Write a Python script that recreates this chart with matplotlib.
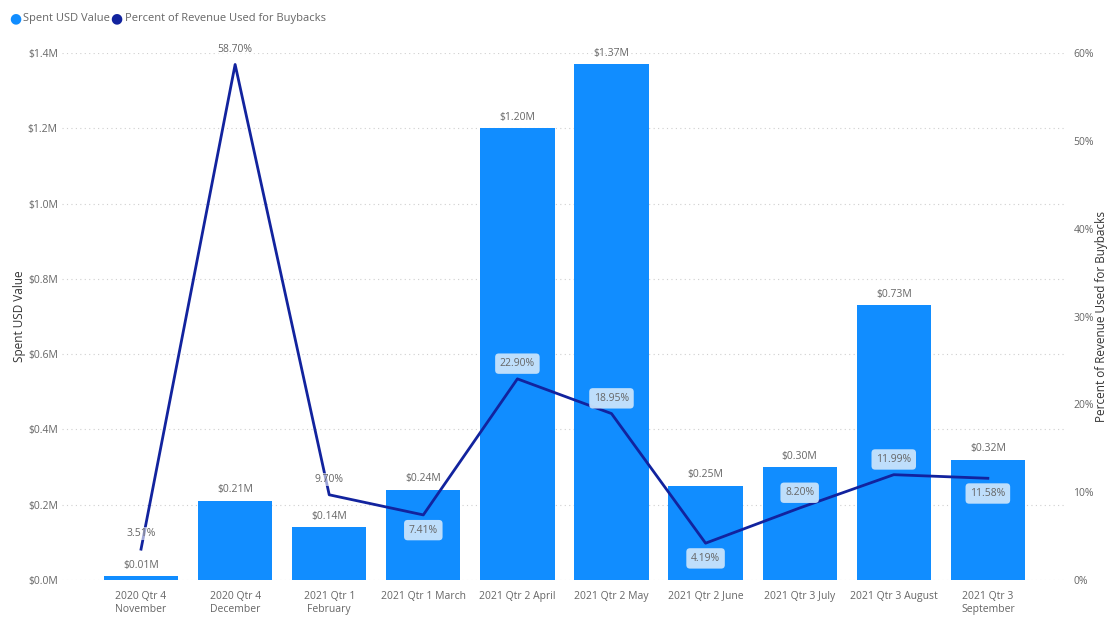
# Description: Spent USD value and percent of revenue used for buybacks, by month.

# Necessary imports
import numpy as np
from matplotlib import pyplot as plt

# Chart data
categories = [
    "2020 Qtr 4\nNovember", "2020 Qtr 4\nDecember", "2021 Qtr 1\nFebruary",
    "2021 Qtr 1 March", "2021 Qtr 2 April", "2021 Qtr 2 May", "2021 Qtr 2 June",
    "2021 Qtr 3 July", "2021 Qtr 3 August", "2021 Qtr 3\nSeptember",
]
spent_usd_m = [0.01, 0.21, 0.14, 0.24, 1.20, 1.37, 0.25, 0.30, 0.73, 0.32]
pct_revenue = [3.51, 58.70, 9.70, 7.41, 22.90, 18.95, 4.19, 8.20, 11.99, 11.58]
# where the percent label sits: above or below the point, with or without a box
pct_label_pos = ["above", "above", "above", "below", "above", "above", "below", "above", "above", "below"]
pct_label_box = [False, False, False, True, True, True, True, True, True, True]

bar_color = "#118DFF"
line_color = "#12239E"
text_gray = "#666666"

plt.rcParams['font.family'] = ['Open Sans', 'DejaVu Sans']

fig = plt.figure(figsize=(11.12, 6.17), dpi=100)
ax = fig.add_axes([62 / 1112, 0.06, (1065 - 62) / 1112, 0.854])
ax2 = ax.twinx()

x = np.arange(len(categories))

# Bars (values in dollars)
spent = np.array(spent_usd_m) * 1e6
ax.bar(x, spent, width=0.79, color=bar_color, zorder=2)
for xi, v in zip(x, spent_usd_m):
    ax.annotate(f"${v:.2f}M", (xi, v * 1e6), xytext=(0, 4), textcoords="offset points",
                ha="center", va="bottom", fontsize=7.5, color=text_gray)

# Line
ax2.plot(x, pct_revenue, color=line_color, linewidth=2, zorder=3)
for xi, v, pos, box in zip(x, pct_revenue, pct_label_pos, pct_label_box):
    dy = 7 if pos == "above" else -7
    va = "bottom" if pos == "above" else "top"
    if box:
        bbox = dict(boxstyle="round,pad=0.45,rounding_size=0.35", fc="#C9E3FB", ec="none", alpha=0.95)
    else:
        bbox = dict(boxstyle="square,pad=0.1", fc="white", ec="none", alpha=0.6)
    ax2.annotate(f"{v:.2f}%", (xi, v), xytext=(0, dy), textcoords="offset points",
                 ha="center", va=va, fontsize=7.5, color=text_gray, bbox=bbox, zorder=4)

# Axes setup
ax.set_xlim(-0.84, len(categories) - 1 + 0.82)
ax.set_ylim(0, 1.4e6)
ax2.set_ylim(0, 60)
ax.set_yticks(np.arange(0, 1.41e6, 0.2e6))
ax.set_yticklabels([f"${t / 1e6:.1f}M" for t in np.arange(0, 1.41e6, 0.2e6)])
ax2.set_yticks(np.arange(0, 61, 10))
ax2.set_yticklabels([f"{t}%" for t in range(0, 61, 10)])
ax.set_xticks(x)
ax.set_xticklabels(categories)

for a in (ax, ax2):
    for s in a.spines.values():
        s.set_visible(False)
    a.tick_params(length=0, colors=text_gray, labelsize=7.5)
ax.tick_params(axis="y", pad=3)
ax2.tick_params(axis="y", pad=6)
ax.tick_params(axis="x", pad=8)

ax.grid(axis="y", linestyle=(0, (1, 3)), color="#CFCFCF", linewidth=0.8, zorder=0)
ax.set_axisbelow(True)

ax.set_ylabel("Spent USD Value", fontsize=8.5, color="#333333", labelpad=1)
ax2.set_ylabel("Percent of Revenue Used for Buybacks", fontsize=8.5, color="#333333", labelpad=1)

# Legend at top left
fig.text(0.008, 0.97, "●", color=bar_color, fontsize=10, va="center")
fig.text(0.021, 0.97, "Spent USD Value", color=text_gray, fontsize=8, va="center")
fig.text(0.099, 0.97, "●", color=line_color, fontsize=10, va="center")
fig.text(0.112, 0.97, "Percent of Revenue Used for Buybacks", color=text_gray, fontsize=8, va="center")

plt.savefig("out.png", dpi=100)
plt.close()
